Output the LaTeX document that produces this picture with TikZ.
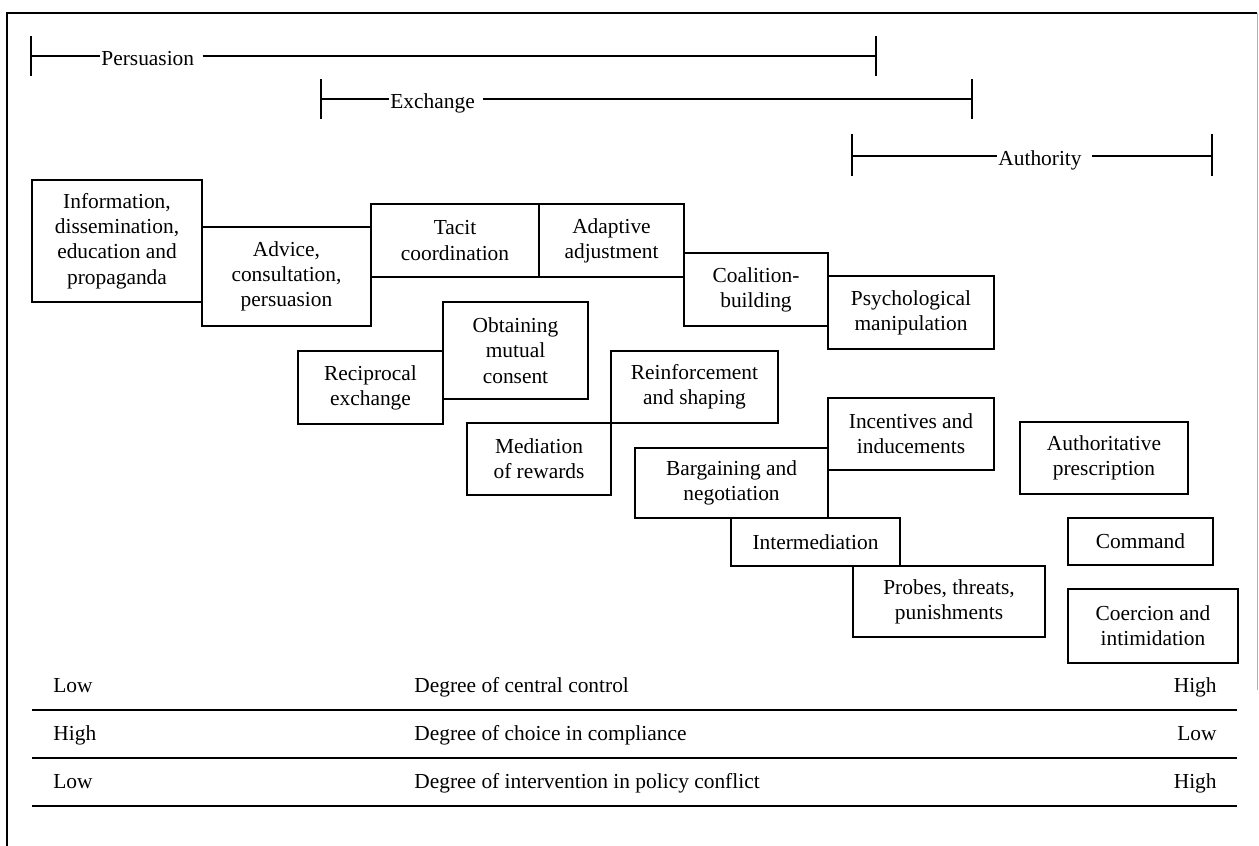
\documentclass[tikz,border=0pt]{standalone}
\usepackage{fontspec}
\setmainfont{Liberation Serif}
\begin{document}
\begin{tikzpicture}[x=0.5pt,y=-0.5pt,
  every node/.style={font=\fontsize{10.7pt}{12.6pt}\selectfont},
  box/.style={draw, line width=0.9pt, inner sep=0pt, align=center},
  rule/.style={line width=0.9pt},
  lbl/.style={inner sep=0pt}]
\useasboundingbox (0,0) rectangle (1259,846);
% frame
\coordinate (fBL) at (7,846);
\coordinate (fTL) at (7,13);
\coordinate (fTR) at (1257,13);
\coordinate (fR) at (1257,690);
\draw[line width=1pt] (fBL) -- (fTL) -- (fTR);
\draw[gray!60, line width=0.5pt] (fTR) -- (fR);

% brackets
\coordinate (pL) at (31,56);
\coordinate (pR) at (876,56);
\node[lbl, anchor=base west] (pers) at (101,65) {Persuasion};
\draw[rule] (pL) -- ([xshift=-0.5pt]pers.west |- pL);
\draw[rule] ([xshift=4pt]pers.east |- pR) -- (pR);
\draw[rule] ([yshift=10pt]pL) -- ([yshift=-10pt]pL);
\draw[rule] ([yshift=10pt]pR) -- ([yshift=-10pt]pR);

\coordinate (eL) at (321,99);
\coordinate (eR) at (972,99);
\node[lbl, anchor=base west] (exch) at (390,108) {Exchange};
\draw[rule] (eL) -- ([xshift=-0.5pt]exch.west |- eL);
\draw[rule] ([xshift=4pt]exch.east |- eR) -- (eR);
\draw[rule] ([yshift=10pt]eL) -- ([yshift=-10pt]eL);
\draw[rule] ([yshift=10pt]eR) -- ([yshift=-10pt]eR);

\coordinate (aL) at (852,156);
\coordinate (aR) at (1212,156);
\node[lbl, anchor=base west] (auth) at (998,165) {Authority};
\draw[rule] (aL) -- ([xshift=-0.5pt]auth.west |- aL);
\draw[rule] ([xshift=5pt]auth.east |- aR) -- (aR);
\draw[rule] ([yshift=11pt]aL) -- ([yshift=-10pt]aL);
\draw[rule] ([yshift=11pt]aR) -- ([yshift=-10pt]aR);

% boxes
\node[box, minimum width=85pt,   minimum height=61pt]   (info)    at (117,241)    {Information,\\dissemination,\\education and\\propaganda};
\node[box, minimum width=84.5pt, minimum height=49.5pt] (advice)  at (286.5,276.5) {Advice,\\consultation,\\persuasion};
\node[box, minimum width=84pt,   minimum height=36.5pt] (tacit)   at (455,240.5)  {Tacit\\coordination};
\node[box, minimum width=72.5pt, minimum height=36.5pt] (adapt)   at (611.5,240.5) {Adaptive\\adjustment};
\node[box, minimum width=72pt,   minimum height=36.5pt] (coal)    at (756,289.5)  {Coalition-\\building};
\node[box, minimum width=83pt,   minimum height=36.5pt] (psych)   at (911,312.5)  {Psychological\\manipulation};
\node[box, minimum width=72.5pt, minimum height=48.5pt] (obtain)  at (515.5,350.5) {Obtaining\\mutual\\consent};
\node[box, minimum width=72.5pt, minimum height=36.5pt] (recip)   at (370.5,387.5) {Reciprocal\\exchange};
\node[box, minimum width=83.5pt, minimum height=36pt]   (reinf)   at (694.5,387)  {Reinforcement\\and shaping};
\node[box, minimum width=72pt,   minimum height=36pt]   (medi)    at (539,459)    {Mediation\\of rewards};
\node[box, minimum width=83pt,   minimum height=36pt]   (incent)  at (911,434)    {Incentives and\\inducements};
\node[box, minimum width=96.5pt, minimum height=35pt]   (barg)    at (731.5,483)  {Bargaining and\\negotiation};
\node[box, minimum width=84.5pt, minimum height=24pt]   (inter)   at (815.5,542)  {Intermediation};
\node[box, minimum width=96pt,   minimum height=35.5pt] (probes)  at (949,601.5)  {Probes, threats,\\punishments};
\node[box, minimum width=84pt,   minimum height=36pt]   (presc)   at (1104,458)   {Authoritative\\prescription};
\node[box, minimum width=72.5pt, minimum height=23.5pt] (command) at (1140.5,541.5) {Command};
\node[box, minimum width=85pt,   minimum height=37pt]   (coerc)   at (1153,626)   {Coercion and\\intimidation};

% bottom scales
\node[lbl, anchor=base west] (r1l) at (53,692) {Low};
\node[lbl, anchor=base west] (r1m) at (414,692) {Degree of central control};
\node[lbl, anchor=base east] (r1r) at (1217,692) {High};
\coordinate (l1a) at (32,710);
\coordinate (l1b) at (1237,710);
\draw[rule] (l1a) -- (l1b);

\node[lbl, anchor=base west] (r2l) at (53,740) {High};
\node[lbl, anchor=base west] (r2m) at (414,740) {Degree of choice in compliance};
\node[lbl, anchor=base east] (r2r) at (1217,740) {Low};
\coordinate (l2a) at (32,758);
\coordinate (l2b) at (1237,758);
\draw[rule] (l2a) -- (l2b);

\node[lbl, anchor=base west] (r3l) at (53,788) {Low};
\node[lbl, anchor=base west] (r3m) at (414,788) {Degree of intervention in policy conflict};
\node[lbl, anchor=base east] (r3r) at (1217,788) {High};
\coordinate (l3a) at (32,806);
\coordinate (l3b) at (1237,806);
\draw[rule] (l3a) -- (l3b);
\end{tikzpicture}
\end{document}
